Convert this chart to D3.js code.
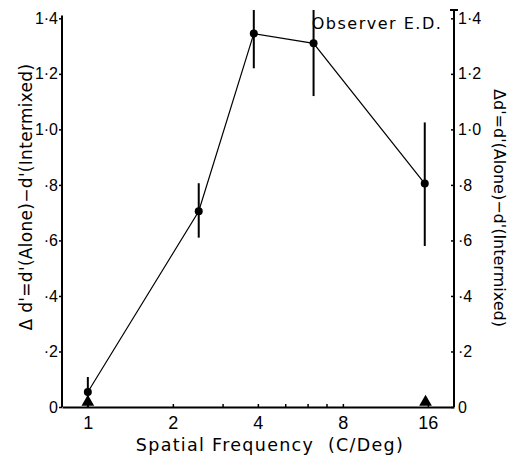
<!DOCTYPE html>
<html><head><meta charset="utf-8">
<script src="https://cdn.jsdelivr.net/npm/d3@7"></script>
<style>
html,body{margin:0;padding:0;background:#fff;}
svg{display:block;font-family:"DejaVu Sans",sans-serif;}
</style></head>
<body>
<svg id="chart" width="510" height="465"></svg>
<script>
// Data
const freqs = [1, 2.47, 3.87, 6.3, 15.6];
const deltaD = [0.054, 0.705, 1.345, 1.31, 0.805];
const errLow = [0.0, 0.61, 1.22, 1.12, 0.58];
const errHigh = [0.108, 0.806, 1.43, 1.43, 1.025];
const triangleFreqs = [1, 15.7];
const xTickValues = [1, 2, 4, 8, 16];
const xMinorTicks = [3, 5, 6, 7];
const yTickValues = [0, 0.2, 0.4, 0.6, 0.8, 1.0, 1.2, 1.4];
const yTickLabels = ["0", "·2", "·4", "·6", "·8", "1·0", "1·2", "1·4"];

const svg = d3.select("#chart");
const L = 62, R = 454, T = 10, B = 407;
const x = d3.scaleLog().base(2).domain([0.81, 19.8]).range([L, R]);
const y = d3.scaleLinear().domain([0, 1.43]).range([B, T]);

const fmtY = v => yTickLabels[yTickValues.indexOf(v)];

// Axes
const gx = svg.append("g").attr("transform", `translate(0,${B})`)
  .call(d3.axisBottom(x).tickValues(xTickValues).tickFormat(d3.format("d")).tickSize(0).tickPadding(9));
gx.select(".domain").attr("stroke", "#000").attr("stroke-width", 2);
gx.selectAll("text").attr("font-size", 18).attr("fill", "#000");

const gxm = svg.append("g").attr("transform", `translate(0,${B})`)
  .call(d3.axisTop(x).tickValues(xTickValues.concat(xMinorTicks)).tickFormat("").tickSize(3));
gxm.select(".domain").remove();
gxm.selectAll("line").attr("stroke", "#000").attr("stroke-width", 1.5);

const gyl = svg.append("g").attr("transform", `translate(${L},0)`)
  .call(d3.axisLeft(y).tickValues(yTickValues).tickFormat(fmtY).tickSize(3).tickPadding(1));
gyl.select(".domain").attr("stroke", "#000").attr("stroke-width", 2).attr("d", `M0,${y(0)}V${y(1.41)}`);
gyl.selectAll("text").attr("font-size", 16).attr("fill", "#000");
gyl.selectAll("line").attr("stroke-width", 1.5);

const gyr = svg.append("g").attr("transform", `translate(${R},0)`)
  .call(d3.axisRight(y).tickValues(yTickValues).tickFormat(fmtY).tickSize(-3).tickPadding(4));
gyr.select(".domain").attr("stroke", "#000").attr("stroke-width", 2).attr("d", `M-4,${y(1.43)}H4M0,${y(1.43)}V${y(0)}`);
gyr.selectAll("text").attr("font-size", 16).attr("fill", "#000");
gyr.selectAll("line").attr("stroke-width", 1.5);

// Error bars
svg.append("g").selectAll("line").data(freqs).join("line")
  .attr("x1", d => x(d)).attr("x2", d => x(d))
  .attr("y1", (d, i) => y(errLow[i])).attr("y2", (d, i) => y(errHigh[i]))
  .attr("stroke", "#000").attr("stroke-width", 2);

// Connecting line
const line = d3.line().x(d => x(d[0])).y(d => y(d[1]));
svg.append("path").datum(freqs.map((f, i) => [f, deltaD[i]]))
  .attr("d", line).attr("fill", "none").attr("stroke", "#000").attr("stroke-width", 1.2);

// Points
svg.append("g").selectAll("circle").data(freqs).join("circle")
  .attr("cx", d => x(d)).attr("cy", (d, i) => y(deltaD[i])).attr("r", 4).attr("fill", "#000");

// Triangles
const tri = d3.symbol().type(d3.symbolTriangle).size(70);
svg.append("g").selectAll("path").data(triangleFreqs).join("path")
  .attr("d", tri).attr("fill", "#000")
  .attr("transform", d => `translate(${x(d)},${y(0) - 5})`);

// Labels
svg.append("text").attr("x", 270).attr("y", 451).attr("text-anchor", "middle")
  .attr("font-size", 17.5).attr("letter-spacing", 1.3).attr("fill", "#000")
  .attr("xml:space", "preserve")
  .text("Spatial Frequency  (C/Deg)");

svg.append("text").attr("x", 377).attr("y", 29).attr("text-anchor", "middle")
  .attr("font-size", 16).attr("letter-spacing", 1.5).attr("fill", "#000")
  .text("Observer E.D.");

svg.append("text").attr("transform", "translate(32,197) rotate(-90)")
  .attr("text-anchor", "middle").attr("font-size", 17).attr("letter-spacing", 0.3).attr("fill", "#000")
  .text("Δ d'=d'(Alone)−d'(Intermixed)");

svg.append("text").attr("transform", "translate(494,208) rotate(90)")
  .attr("text-anchor", "middle").attr("font-size", 16).attr("fill", "#000")
  .text("Δd'=d'(Alone)−d'(Intermixed)");
</script>
</body></html>
